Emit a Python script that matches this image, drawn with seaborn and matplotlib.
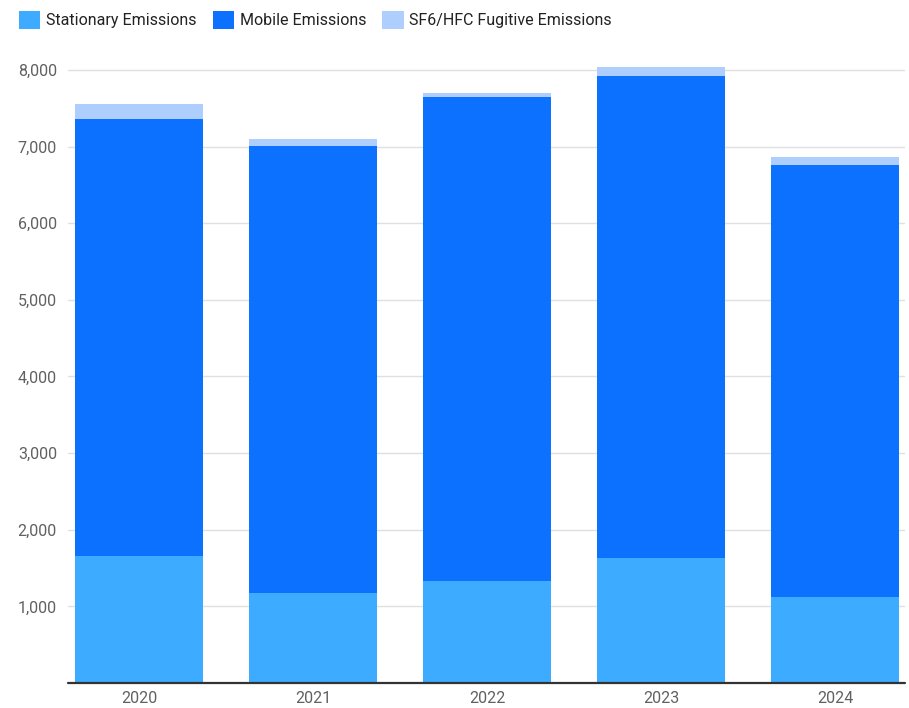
import matplotlib
matplotlib.use("Agg")
import matplotlib.pyplot as plt
from matplotlib.patches import Patch
from matplotlib.ticker import FuncFormatter
import numpy as np
import pandas as pd
import seaborn as sns

years = ["2020", "2021", "2022", "2023", "2024"]
stationary = [1658, 1178, 1331, 1627, 1122]
mobile = [5703, 5830, 6313, 6299, 5634]
fugitive = [195, 88, 52, 109, 105]

series_names = ["Stationary Emissions", "Mobile Emissions", "SF6/HFC Fugitive Emissions"]
colors = ["#3DABFF", "#0C71FF", "#AECEFE"]

sns.set_theme(style="white")
plt.rcParams["font.family"] = ["Roboto", "DejaVu Sans"]

df = pd.DataFrame({"year": years, "s": stationary, "m": mobile, "f": fugitive})
df["sm"] = df["s"] + df["m"]
df["total"] = df["sm"] + df["f"]

fig = plt.figure(figsize=(9.09, 7.08), dpi=100)
ax = fig.add_axes([68 / 909, 25 / 708, 837 / 909, 623 / 708])

# Stacked bars: draw cumulative heights from the top layer down
for col, color in zip(["total", "sm", "s"], colors[::-1]):
    sns.barplot(data=df, x="year", y=col, color=color, width=0.736,
                saturation=1, linewidth=0, ax=ax, zorder=3)

ax.set_xlim(-0.408, 4.402)
ax.set_ylim(0, 8130)
ax.set_yticks(np.arange(1000, 8001, 1000))
ax.yaxis.set_major_formatter(FuncFormatter(lambda v, p: f"{int(v):,}"))
ax.grid(axis="y", color="#E0E0E0", linewidth=1, zorder=0)
ax.set_axisbelow(True)
ax.axhline(0, color="#333333", linewidth=1.6, zorder=4, clip_on=False)

for side in ["top", "right", "left", "bottom"]:
    ax.spines[side].set_visible(False)
ax.set_xlabel("")
ax.set_ylabel("")
ax.tick_params(axis="both", length=0, labelsize=11.5, colors="#616161")
ax.tick_params(axis="y", pad=8)
ax.tick_params(axis="x", pad=6)

handles = [Patch(facecolor=c, edgecolor="none") for c in colors]
fig.legend(handles, series_names, loc="upper left", bbox_to_anchor=(0.005, 1.005),
           ncol=3, frameon=False, fontsize=11.5, handlelength=1.35, handleheight=1.35,
           handletextpad=0.35, columnspacing=1.0, labelcolor="#222222")

fig.savefig("out.png", dpi=100)
